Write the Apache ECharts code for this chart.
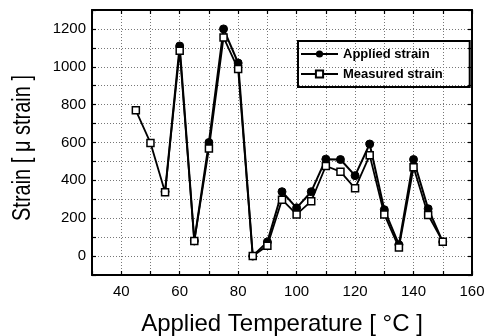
<!DOCTYPE html>
<html><head><meta charset="utf-8">
<script src="https://cdn.jsdelivr.net/npm/echarts@6/dist/echarts.min.js"></script>
<style>html,body{margin:0;padding:0;background:#fff}#c{width:491px;height:336px}</style>
</head><body><div id="c"></div>
<script>
const temps = [45,50,55,60,65,70,75,80,85,90,95,100,105,110,115,120,125,130,135,140,145,150];
const applied = [null,null,340,1110,80,600,1200,1020,0,75,340,255,340,512,510,425,592,245,60,510,250,75];
const measured = [770,598,337,1085,80,568,1155,988,0,55,298,220,290,476,446,358,532,220,45,469,217,76];
const xTicks = [40,60,80,100,120,140,160];
const yTicks = [0,200,400,600,800,1000,1200];
const xTitle = 'Applied Temperature [ °C ]';
const yTitle = 'Strain [ μ strain ]';

const F = '"Liberation Sans", Arial, sans-serif';
const chart = echarts.init(document.getElementById('c'));
const pair = a => temps.map((t,i)=>[t,a[i]]);
const gridLine = {show:true, lineStyle:{color:'#777', type:[1,2], width:1}};
const frameLine = {show:true, onZero:false, lineStyle:{color:'#000',width:2}};
const tick = {inside:true,length:4,lineStyle:{color:'#000',width:1.2}};
chart.setOption({
  animation:false,
  grid:{left:92,right:19,top:10,bottom:61,containLabel:false,outerBoundsMode:'none'},
  legend:{
    orient:'vertical', left:298, top:41,
    itemWidth:37, itemHeight:9, itemGap:6,
    padding:[6,27,6,2],
    borderColor:'#000', borderWidth:2,
    textStyle:{fontFamily:F,fontSize:13,fontWeight:'bold',color:'#000',lineHeight:14},
    data:['Applied strain','Measured strain']
  },
  graphic:[{
    type:'text', x:23, y:148, rotation:Math.PI/2, scaleY:1.3,
    style:{text:yTitle, font:'20px "Liberation Sans", Arial, sans-serif', fill:'#000',
      textAlign:'center', textVerticalAlign:'middle'}
  }],
  xAxis:[{
    type:'value', min:30, max:160, interval:10,
    name:xTitle, nameLocation:'middle', nameGap:37,
    nameTextStyle:{fontFamily:F,fontSize:24,color:'#000'},
    axisLine:frameLine, axisTick:tick,
    axisLabel:{fontFamily:F,fontSize:15,color:'#000',margin:9,
      formatter:v=>xTicks.includes(v)?String(v):''},
    splitLine:gridLine
  },{
    type:'value', position:'top', min:30, max:160, interval:10,
    axisLine:frameLine, axisTick:tick,
    axisLabel:{show:false}, splitLine:{show:false}
  }],
  yAxis:[{
    type:'value', min:-100, max:1300, interval:100,
    axisLine:frameLine, axisTick:tick,
    axisLabel:{fontFamily:F,fontSize:15,color:'#000',margin:6,
      formatter:v=>yTicks.includes(v)?String(v):''},
    splitLine:gridLine
  },{
    type:'value', position:'right', min:-100, max:1300, interval:100,
    axisLine:frameLine, axisTick:tick,
    axisLabel:{show:false}, splitLine:{show:false}
  }],
  series:[{
    name:'Applied strain', type:'line', data:pair(applied),
    symbol:'circle', symbolSize:8,
    lineStyle:{color:'#000',width:2}, itemStyle:{color:'#000',borderColor:'#000'}
  },{
    name:'Measured strain', type:'line', data:pair(measured),
    symbol:'rect', symbolSize:7,
    lineStyle:{color:'#000',width:1.8}, itemStyle:{color:'#fff',borderColor:'#000',borderWidth:1.5}
  }]
});
</script></body></html>
